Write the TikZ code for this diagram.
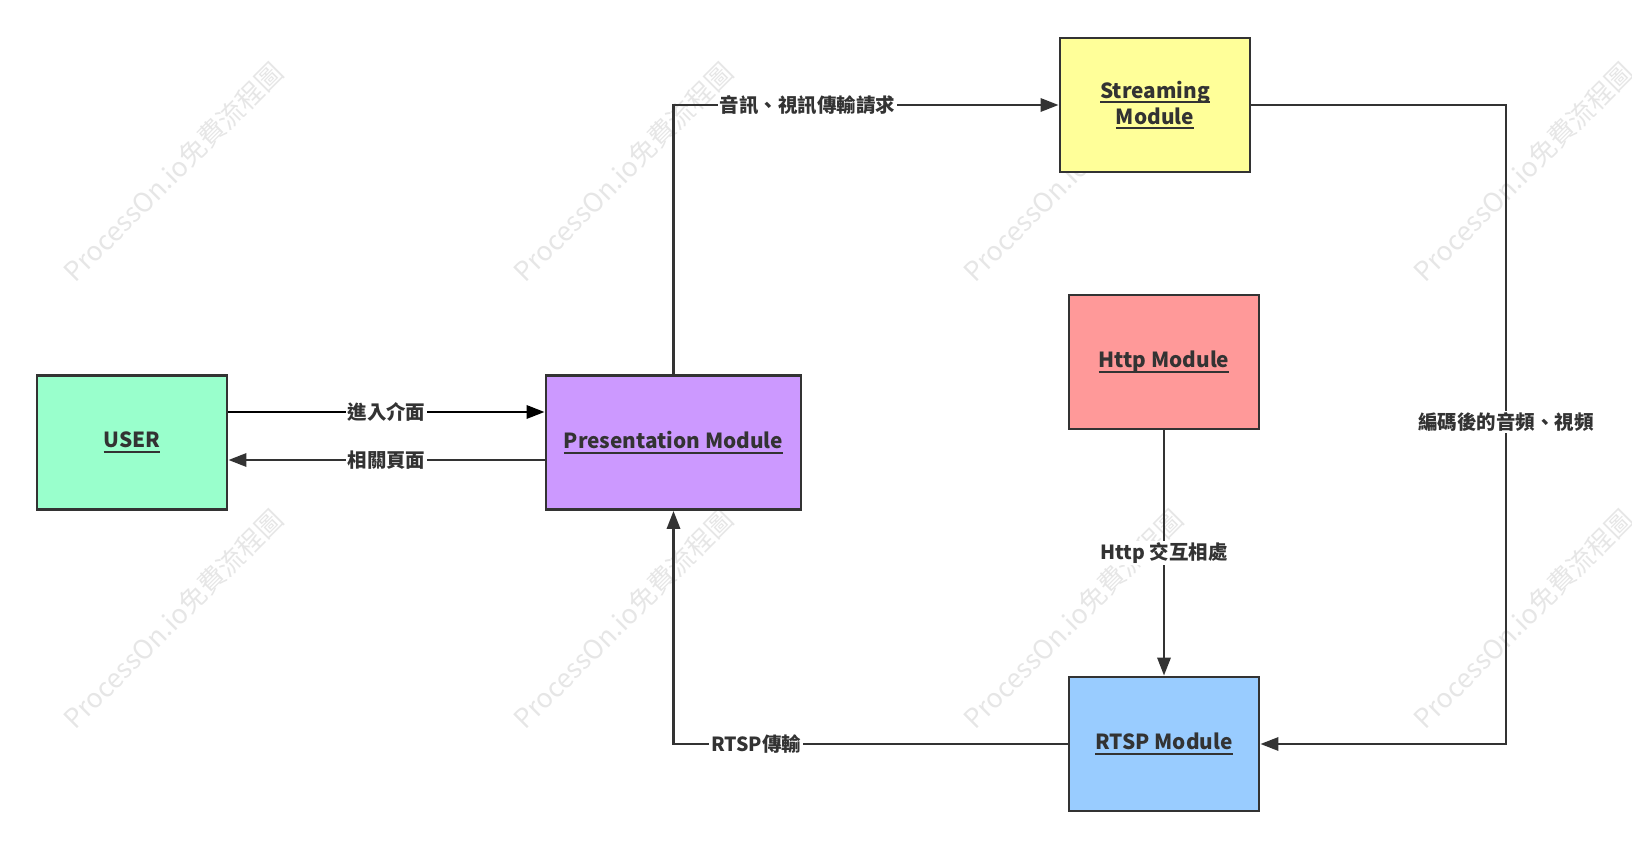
\documentclass[tikz,border=0pt]{standalone}
\usepackage{fontspec}
\setmainfont{Noto Sans CJK TC}
\newsavebox{\undlbox}
\newcommand{\undl}[1]{\sbox{\undlbox}{#1}\leavevmode\rlap{\raisebox{-3.6pt}{\rule{\wd\undlbox}{1.2pt}}}\usebox{\undlbox}}
\usetikzlibrary{arrows.meta}
\definecolor{ink}{HTML}{333333}
\definecolor{cuser}{HTML}{99FFCC}
\definecolor{cpres}{HTML}{CC99FF}
\definecolor{cstream}{HTML}{FFFF99}
\definecolor{chttp}{HTML}{FF9999}
\definecolor{crtsp}{HTML}{99CCFF}
\definecolor{wm}{HTML}{E6E6E6}
\tikzset{
  modbox/.style={draw=ink, line width=2.2pt, minimum width=142.5pt, minimum height=100.5pt,
    inner sep=0pt, text=ink, align=center, font=\bfseries\fontsize{15.6}{19.5}\selectfont},
  conn/.style={draw=ink, line width=1.8pt, -{Triangle[length=13.5pt,width=10pt]}},
  elabel/.style={fill=white, inner sep=1.5pt, text=ink, font=\bfseries\fontsize{14.6}{17}\selectfont},
  wmark/.style={rotate=45, text=wm, inner sep=0pt, font=\fontsize{20}{24}\selectfont}
}
\begin{document}
\begin{tikzpicture}[x=0.75pt,y=-0.75pt]
\useasboundingbox (0,0) rectangle (1632,848);
% watermarks
\foreach \wx in {173,623,1073,1523}{
  \foreach \wy in {172,619}{
    \node[wmark] at (\wx,\wy) {ProcessOn.io免費流程圖};
  }
}
% modules
\node[modbox, fill=cuser] (user) at (132,442.5) {\undl{USER}};
\node[modbox, fill=cpres, minimum width=191.25pt] (pres) at (673.5,442.5) {\undl{Presentation Module}};
\node[modbox, fill=cstream] (stream) at (1155,105) {\undl{Streaming}\\\undl{Module}};
\node[modbox, fill=chttp] (http) at (1164,362) {\undl{Http Module}};
\node[modbox, fill=crtsp] (rtsp) at (1164,744) {\undl{RTSP Module}};
% helper coordinates
\coordinate (a1) at (0,412);
\coordinate (a2) at (0,460);
\coordinate (c1) at (1506,0);
% connectors
\draw[conn, draw=black] (user.east |- a1) -- node[elabel]{進入介面} (pres.west |- a1);
\draw[conn] (pres.west |- a2) -- node[elabel]{相關頁面} (user.east |- a2);
\draw[conn] (pres.north) |- node[elabel, pos=0.674]{音訊、視訊傳輸請求} (stream.west);
\draw[conn] (stream.east) -| (c1 |- rtsp.east) -- (rtsp.east);
\node[elabel] (l4) at (1506,422) {編碼後的音頻、視頻};
\draw[conn] (http.south) -- node[elabel]{Http 交互相處} (rtsp.north);
\draw[conn] (rtsp.west) -| node[elabel, pos=0.395]{RTSP傳輸} (pres.south);
\end{tikzpicture}
\end{document}
